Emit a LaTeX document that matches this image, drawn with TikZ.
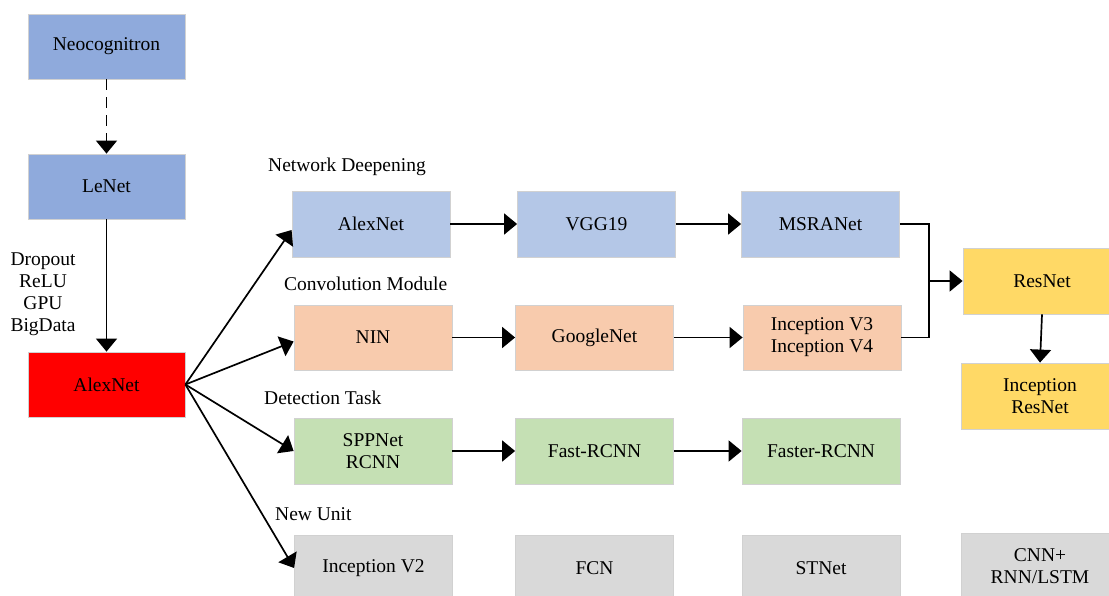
\documentclass[tikz,border=0pt]{standalone}
\usepackage{fontspec}
\setmainfont{Liberation Serif}
\usetikzlibrary{arrows.meta,calc}
\definecolor{cnavy}{HTML}{8FAADC}
\definecolor{cblue}{HTML}{B4C7E7}
\definecolor{corange}{HTML}{F8CBAD}
\definecolor{cgreen}{HTML}{C5E0B4}
\definecolor{cgray}{HTML}{D9D9D9}
\definecolor{cyellow}{HTML}{FFD966}
\definecolor{cred}{HTML}{FF0000}
\tikzset{
  box/.style={draw=black!18, line width=0.8pt, minimum width=157pt, minimum height=65pt,
    inner sep=0pt, align=center, font=\fontsize{19.5pt}{22pt}\selectfont},
  lbl/.style={anchor=west, inner sep=0pt, font=\fontsize{19.5pt}{22pt}\selectfont},
  arr/.style={line width=1.7pt, -{Triangle[length=13pt,width=21pt]}},
  ln/.style={line width=1.7pt}
}
\begin{document}
\begin{tikzpicture}[x=1pt,y=-1pt]
\useasboundingbox (0,0) rectangle (1109,596);
\begin{scope}
\clip (0,0) rectangle (1109,596);
% left column
\node[box, fill=cnavy] (neo) at (106.5,46.5) {Neocognitron};
\node[box, fill=cnavy] (lenet) at (106.5,186.5) {LeNet};
\node[box, fill=cred] (alexr) at (106.5,384.5) {AlexNet};
\node[align=center, inner sep=0pt, font=\fontsize{19.5pt}{22pt}\selectfont] (tricks) at (43,294) {Dropout\\ReLU\\GPU\\BigData};
% row 1
\node[box, fill=cblue, minimum width=158pt, minimum height=66pt] (a1) at (371,224) {AlexNet};
\node[box, fill=cblue, minimum width=158pt, minimum height=66pt] (vgg) at (596.5,224) {VGG19};
\node[box, fill=cblue, minimum width=158pt, minimum height=66pt] (msra) at (820.5,224) {MSRANet};
% row 2
\node[box, fill=corange, minimum width=158pt] (nin) at (373,337.5) {NIN};
\node[box, fill=corange, minimum width=158pt] (goog) at (594.5,337.5) {GoogleNet};
\node[box, fill=corange, minimum width=158pt] (inc34) at (822,337.5) {Inception V3\\Inception V4};
% row 3
\node[box, fill=cgreen, minimum width=158pt, minimum height=66pt] (spp) at (373,451) {SPPNet\\RCNN};
\node[box, fill=cgreen, minimum width=158pt, minimum height=66pt] (fast) at (594.5,451) {Fast-RCNN};
\node[box, fill=cgreen, minimum width=158pt, minimum height=66pt] (faster) at (821,451) {Faster-RCNN};
% row 4
\node[box, fill=cgray, minimum width=158pt, minimum height=66pt] (incv2) at (373.5,568) {Inception V2};
\node[box, fill=cgray, minimum width=158pt, minimum height=66pt] (fcn) at (594.5,568) {FCN};
\node[box, fill=cgray, minimum width=158pt, minimum height=66pt] (stnet) at (821,568) {STNet};
\node[box, fill=cgray, minimum width=158pt, minimum height=66pt] (cnn) at (1040,566) {CNN+\\RNN/LSTM};
% right column
\node[box, fill=cyellow, minimum width=158pt, minimum height=66pt] (resnet) at (1042,281) {ResNet};
\node[box, fill=cyellow, minimum width=158pt, minimum height=66pt] (incres) at (1040,396) {Inception\\ResNet};
% labels
\node[lbl] (l1) at (268,167) {Network Deepening};
\node[lbl] (l2) at (284,284) {Convolution Module};
\node[lbl] (l3) at (264,398) {Detection Task};
\node[lbl] (l4) at (275,514) {New Unit};
% arrows
\draw[arr, dash pattern=on 11pt off 7pt] (neo.south) -- (lenet.north);
\draw[arr] (lenet.south) -- (alexr.north);
\draw[arr] (alexr.east) -- ([yshift=-6pt]a1.west);
\draw[arr] (alexr.east) -- ([yshift=-4pt]nin.west);
\draw[arr] (alexr.east) -- (spp.west);
\draw[arr] (alexr.east) -- (incv2.west);
\draw[arr] (a1.east) -- (vgg.west);
\draw[arr] (vgg.east) -- (msra.west);
\draw[arr] (nin.east) -- (goog.west);
\draw[arr] (goog.east) -- (inc34.west);
\draw[arr] (spp.east) -- (fast.west);
\draw[arr] (fast.east) -- (faster.west);
\coordinate (j) at (929,281);
\draw[ln] (msra.east) -| (j);
\draw[ln] (inc34.east) -| (j);
\draw[arr] (j) -- (resnet.west);
\draw[arr] (resnet.south) -- (incres.north);
\end{scope}
\end{tikzpicture}
\end{document}
